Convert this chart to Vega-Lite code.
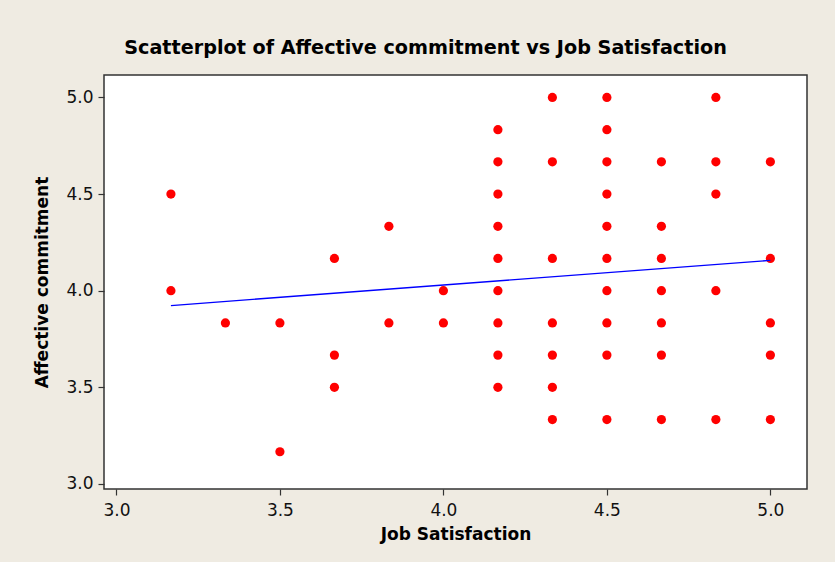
{
  "$schema": "https://vega.github.io/schema/vega-lite/v6.json",
  "width": 703,
  "height": 414,
  "autosize": {"type": "none"},
  "padding": {"left": 104, "top": 75, "right": 28, "bottom": 73},
  "background": "#efebe2",
  "title": {
    "text": "Scatterplot of Affective commitment vs Job Satisfaction",
    "font": "DejaVu Sans",
    "fontSize": 19.2,
    "fontWeight": "bold",
    "color": "#000000",
    "anchor": "middle",
    "frame": "group",
    "dx": -30,
    "offset": 17
  },
  "config": {
    "view": {"fill": "#ffffff", "stroke": "#333333", "strokeWidth": 1.5},
    "axis": {
      "labelFont": "DejaVu Sans",
      "labelFontSize": 17,
      "labelColor": "#111111",
      "titleFont": "DejaVu Sans",
      "titleFontSize": 17,
      "titleFontWeight": "bold",
      "titleColor": "#000000",
      "tickColor": "#333333",
      "tickSize": 6,
      "tickWidth": 1.2,
      "domain": false,
      "grid": false,
      "labelPadding": 5
    }
  },
  "layer": [
    {
      "data": {
        "values": [
          {"js": 3.1667, "ac": 4.5}, {"js": 3.1667, "ac": 4.0},
          {"js": 3.3333, "ac": 3.8333},
          {"js": 3.5, "ac": 3.8333}, {"js": 3.5, "ac": 3.1667},
          {"js": 3.6667, "ac": 4.1667}, {"js": 3.6667, "ac": 3.6667}, {"js": 3.6667, "ac": 3.5},
          {"js": 3.8333, "ac": 4.3333}, {"js": 3.8333, "ac": 3.8333},
          {"js": 4.0, "ac": 4.0}, {"js": 4.0, "ac": 3.8333},
          {"js": 4.1667, "ac": 4.8333}, {"js": 4.1667, "ac": 4.6667}, {"js": 4.1667, "ac": 4.5},
          {"js": 4.1667, "ac": 4.3333}, {"js": 4.1667, "ac": 4.1667}, {"js": 4.1667, "ac": 4.0},
          {"js": 4.1667, "ac": 3.8333}, {"js": 4.1667, "ac": 3.6667}, {"js": 4.1667, "ac": 3.5},
          {"js": 4.3333, "ac": 5.0}, {"js": 4.3333, "ac": 4.6667}, {"js": 4.3333, "ac": 4.1667},
          {"js": 4.3333, "ac": 3.8333}, {"js": 4.3333, "ac": 3.6667}, {"js": 4.3333, "ac": 3.5},
          {"js": 4.3333, "ac": 3.3333},
          {"js": 4.5, "ac": 5.0}, {"js": 4.5, "ac": 4.8333}, {"js": 4.5, "ac": 4.6667},
          {"js": 4.5, "ac": 4.5}, {"js": 4.5, "ac": 4.3333}, {"js": 4.5, "ac": 4.1667},
          {"js": 4.5, "ac": 4.0}, {"js": 4.5, "ac": 3.8333}, {"js": 4.5, "ac": 3.6667},
          {"js": 4.5, "ac": 3.3333},
          {"js": 4.6667, "ac": 4.6667}, {"js": 4.6667, "ac": 4.3333}, {"js": 4.6667, "ac": 4.1667},
          {"js": 4.6667, "ac": 4.0}, {"js": 4.6667, "ac": 3.8333}, {"js": 4.6667, "ac": 3.6667},
          {"js": 4.6667, "ac": 3.3333},
          {"js": 4.8333, "ac": 5.0}, {"js": 4.8333, "ac": 4.6667}, {"js": 4.8333, "ac": 4.5},
          {"js": 4.8333, "ac": 4.0}, {"js": 4.8333, "ac": 3.3333},
          {"js": 5.0, "ac": 4.6667}, {"js": 5.0, "ac": 4.1667}, {"js": 5.0, "ac": 3.8333},
          {"js": 5.0, "ac": 3.6667}, {"js": 5.0, "ac": 3.3333}
        ]
      },
      "mark": {"type": "circle", "color": "#ff0000", "opacity": 1, "size": 85},
      "encoding": {
        "x": {
          "field": "js",
          "type": "quantitative",
          "title": "Job Satisfaction",
          "scale": {"domain": [2.962, 5.112], "zero": false, "nice": false},
          "axis": {"values": [3, 3.5, 4, 4.5, 5], "format": ".1f", "labelPadding": 7, "titlePadding": 8}
        },
        "y": {
          "field": "ac",
          "type": "quantitative",
          "title": "Affective commitment",
          "scale": {"domain": [2.974, 5.116], "zero": false, "nice": false},
          "axis": {"values": [3, 3.5, 4, 4.5, 5], "format": ".1f", "titlePadding": 14}
        }
      }
    },
    {
      "data": {
        "values": [
          {"js": 3.1667, "ac": 3.923},
          {"js": 5.0, "ac": 4.157}
        ]
      },
      "mark": {"type": "line", "color": "#0000ff", "strokeWidth": 1.4},
      "encoding": {
        "x": {"field": "js", "type": "quantitative"},
        "y": {"field": "ac", "type": "quantitative"}
      }
    }
  ]
}
